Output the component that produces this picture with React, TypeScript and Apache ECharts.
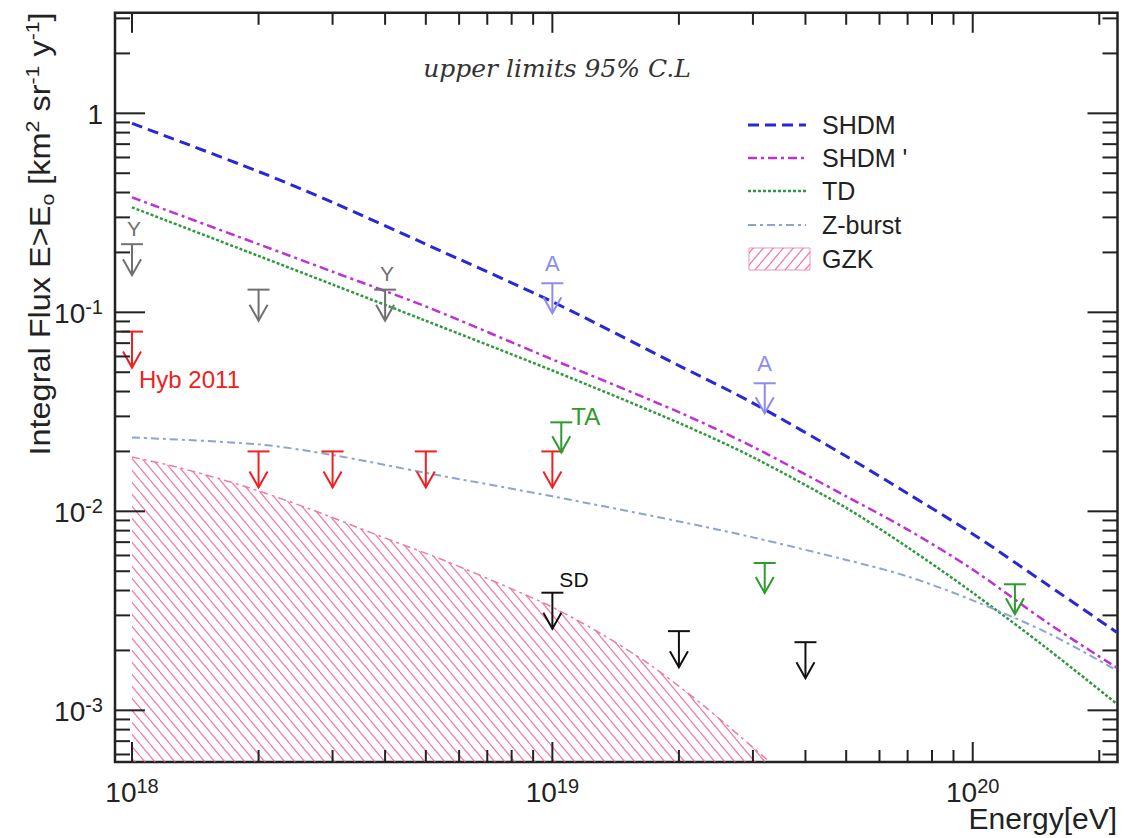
import React, { useEffect, useRef } from 'react';
import * as echarts from 'echarts';

// Axis ranges (log scales)
const X_MIN = 9.11e17;
const X_MAX = 2.21e20;
const Y_MIN = 5.5e-4;
const Y_MAX = 3.2;

// Model predictions of the integral photon flux
const ENERGY = [1e18, 2e18, 3e18, 5e18, 1e19, 2e19, 3e19, 5e19, 7e19, 1e20, 1.5e20, 2.2e20];
const SHDM = [0.89, 0.51, 0.357, 0.22, 0.113, 0.054, 0.035, 0.0189, 0.0123, 0.0077, 0.0043, 0.00247];
const SHDM_PRIME = [0.378, 0.22, 0.16, 0.107, 0.058, 0.0315, 0.0211, 0.0119, 0.0081, 0.0051, 0.00277, 0.00164];
const TD = [0.337, 0.192, 0.138, 0.0907, 0.051, 0.0278, 0.0187, 0.0104, 0.0066, 0.0039, 0.00205, 0.00108];
const Z_BURST = [0.0235, 0.0217, 0.0192, 0.0156, 0.0119, 0.0089, 0.0074, 0.0057, 0.00471, 0.00357, 0.00246, 0.00159];

// GZK band upper boundary
const GZK_ENERGY = [1e18, 1.28e18, 1.84e18, 2.65e18, 3.83e18, 5.5e18, 7.93e18, 1e19, 1.3e19, 1.71e19, 2.31e19, 3.29e19];
const GZK_FLUX = [0.01875, 0.01667, 0.01341, 0.01027, 0.0076, 0.00569, 0.00411, 0.0033, 0.00244, 0.00169, 0.00104, 0.00055];

// Upper limits (energy, flux) and their labels
const HYB_LIMITS = [[1e18, 0.08], [2e18, 0.02], [3e18, 0.02], [5e18, 0.02], [1e19, 0.02]];
const HYB_LABELS = ['Hyb 2011', '', '', '', ''];
const Y_LIMITS = [[1e18, 0.22], [2e18, 0.13], [4e18, 0.13]];
const Y_LABELS = ['Y', '', 'Y'];
const A_LIMITS = [[1e19, 0.14], [3.2e19, 0.044]];
const A_LABELS = ['A', 'A'];
const TA_LIMITS = [[1.05e19, 0.028], [3.2e19, 0.0055], [1.26e20, 0.0043]];
const TA_LABELS = ['TA', '', ''];
const SD_LIMITS = [[1e19, 0.0039], [2e19, 0.0025], [4e19, 0.0022]];
const SD_LABELS = ['SD', '', ''];

const SANS = 'Liberation Sans, Arial, sans-serif';

function hatchTile(forward: boolean) {
  const c = document.createElement('canvas');
  c.width = 10;
  c.height = 12;
  const ctx = c.getContext('2d')!;
  ctx.strokeStyle = 'rgba(236,96,146,0.85)';
  ctx.lineWidth = 1.2;
  for (let k = -1; k <= 1; k++) {
    ctx.beginPath();
    if (forward) {
      ctx.moveTo(k * 10, 12);
      ctx.lineTo(k * 10 + 10, 0);
    } else {
      ctx.moveTo(k * 10, 0);
      ctx.lineTo(k * 10 + 10, 12);
    }
    ctx.stroke();
  }
  return { image: c, repeat: 'repeat', imageWidth: 10, imageHeight: 12 };
}

function lineSeries(name: string, values: number[], color: string, dash: number[], width: number) {
  return {
    type: 'line',
    name,
    data: ENERGY.map((e, i) => [e, values[i]]),
    showSymbol: false,
    symbol: 'none',
    smooth: 0.3,
    silent: true,
    z: 4,
    lineStyle: { color, width, type: dash },
  };
}

function limitSeries(
  name: string,
  points: number[][],
  labels: string[],
  color: string,
  len: number,
  lab: { dx: number; dy: number; align: string; size: number }
) {
  return {
    type: 'custom',
    name,
    data: points,
    silent: true,
    clip: false,
    z: 6,
    renderItem: (params: any, api: any) => {
      const p = api.coord([api.value(0), api.value(1)]);
      const x = p[0];
      const y = p[1];
      const hw = 11;
      const aw = 9;
      const ah = 16;
      const st = { stroke: color, lineWidth: 2, fill: 'none' };
      const children: any[] = [
        { type: 'line', shape: { x1: x - hw, y1: y, x2: x + hw, y2: y }, style: st },
        { type: 'line', shape: { x1: x, y1: y, x2: x, y2: y + len }, style: st },
        {
          type: 'polyline',
          shape: { points: [[x - aw, y + len - ah], [x, y + len], [x + aw, y + len - ah]] },
          style: st,
        },
      ];
      const t = labels[params.dataIndex];
      if (t) {
        children.push({
          type: 'text',
          x: x + lab.dx,
          y: y + lab.dy,
          style: {
            text: t,
            fill: color,
            fontSize: lab.size,
            fontFamily: SANS,
            align: lab.align,
            verticalAlign: 'middle',
          },
        });
      }
      return { type: 'group', children };
    },
  };
}

function tickSeries() {
  const xMajor: number[] = [];
  const xMinor: number[] = [];
  const yMajor: number[] = [];
  const yMinor: number[] = [];
  for (let k = 17; k <= 20; k++) {
    for (let m = 1; m <= 9; m++) {
      const v = m * Math.pow(10, k);
      if (v < X_MIN || v > X_MAX) continue;
      (m === 1 ? xMajor : xMinor).push(v);
    }
  }
  for (let k = -4; k <= 0; k++) {
    for (let m = 1; m <= 9; m++) {
      const v = m * Math.pow(10, k);
      if (v < Y_MIN || v > Y_MAX) continue;
      (m === 1 ? yMajor : yMinor).push(v);
    }
  }
  return {
    type: 'custom',
    name: 'ticks',
    data: [[X_MIN, Y_MIN]],
    silent: true,
    clip: false,
    z: 7,
    renderItem: (_params: any, api: any) => {
      const children: any[] = [];
      const st = { stroke: '#222', lineWidth: 2 };
      const bottom = api.coord([X_MIN, Y_MIN])[1];
      const top = api.coord([X_MIN, Y_MAX])[1];
      const left = api.coord([X_MIN, Y_MIN])[0];
      const right = api.coord([X_MAX, Y_MIN])[0];
      const addX = (v: number, len: number) => {
        const x = api.coord([v, Y_MIN])[0];
        children.push({ type: 'line', shape: { x1: x, y1: bottom, x2: x, y2: bottom - len }, style: st });
        children.push({ type: 'line', shape: { x1: x, y1: top, x2: x, y2: top + len }, style: st });
      };
      const addY = (v: number, len: number) => {
        const y = api.coord([X_MIN, v])[1];
        children.push({ type: 'line', shape: { x1: left, y1: y, x2: left + len, y2: y }, style: st });
        children.push({ type: 'line', shape: { x1: right, y1: y, x2: right - len, y2: y }, style: st });
      };
      xMajor.forEach((v) => addX(v, 20));
      xMinor.forEach((v) => addX(v, 12));
      yMajor.forEach((v) => addY(v, 30));
      yMinor.forEach((v) => addY(v, 15));
      return { type: 'group', children };
    },
  };
}

const isPow10 = (v: number) => Math.abs(Math.log10(v) - Math.round(Math.log10(v))) < 1e-6;

const labelRich = {
  b: { fontSize: 28, fontFamily: SANS, color: '#222', lineHeight: 30, verticalAlign: 'bottom' },
  s: { fontSize: 20, fontFamily: SANS, color: '#222', lineHeight: 18, verticalAlign: 'top' },
};

const LEGEND_ROWS = [
  { name: 'SHDM', color: '#2828d8', dash: [11, 6], width: 3 },
  { name: "SHDM '", color: '#bf30d8', dash: [9, 4, 3, 4], width: 2.5 },
  { name: 'TD', color: '#2f9a3c', dash: [3, 2], width: 2.5 },
  { name: 'Z-burst', color: '#8ea4d0', dash: [8, 4, 3, 4], width: 2 },
];

export default function App() {
  const ref = useRef<HTMLDivElement>(null);

  useEffect(() => {
    const chart = echarts.init(ref.current!, null, { renderer: 'svg' });
    const backHatch = hatchTile(false);
    const fwdHatch = hatchTile(true);

    const legendGraphics: any[] = [];
    const rowY = [125, 158, 191, 225, 259];
    LEGEND_ROWS.forEach((r, i) => {
      legendGraphics.push({
        type: 'line',
        shape: { x1: 748, y1: rowY[i], x2: 806, y2: rowY[i] },
        style: { stroke: r.color, lineWidth: r.width, lineDash: r.dash },
      });
      legendGraphics.push({
        type: 'text',
        x: 822,
        y: rowY[i],
        style: { text: r.name, fill: '#222', fontSize: 25, fontFamily: SANS, verticalAlign: 'middle' },
      });
    });
    legendGraphics.push({
      type: 'rect',
      shape: { x: 749, y: rowY[4] - 11, width: 61, height: 22 },
      style: { fill: fwdHatch, stroke: 'rgba(236,120,160,0.8)', lineWidth: 1 },
    });
    legendGraphics.push({
      type: 'text',
      x: 822,
      y: rowY[4],
      style: { text: 'GZK', fill: '#222', fontSize: 25, fontFamily: SANS, verticalAlign: 'middle' },
    });

    const option: any = {
      animation: false,
      backgroundColor: '#fff',
      grid: {
        left: 115,
        right: 14.5,
        top: 12.8,
        bottom: 76,
        outerBoundsMode: 'none',
        containLabel: false,
        show: true,
        borderColor: '#222',
        borderWidth: 2.5,
        backgroundColor: 'transparent',
      },
      xAxis: {
        type: 'log',
        logBase: 10,
        min: X_MIN,
        max: X_MAX,
        axisLine: { show: false },
        axisTick: { show: false },
        splitLine: { show: false },
        axisLabel: {
          margin: 14,
          hideOverlap: false,
          formatter: (v: number) => (isPow10(v) ? `{b|10}{s|${Math.round(Math.log10(v))}}` : ''),
          rich: labelRich,
        },
      },
      yAxis: {
        type: 'log',
        logBase: 10,
        min: Y_MIN,
        max: Y_MAX,
        axisLine: { show: false },
        axisTick: { show: false },
        splitLine: { show: false },
        axisLabel: {
          margin: 12,
          hideOverlap: false,
          formatter: (v: number) => {
            if (!isPow10(v)) return '';
            const e = Math.round(Math.log10(v));
            return e === 0 ? '{b|1}' : `{b|10}{s|${e}}`;
          },
          rich: labelRich,
        },
      },
      graphic: [
        {
          type: 'text',
          x: 557,
          y: 68,
          style: {
            text: 'upper limits 95% C.L',
            fill: '#333',
            fontSize: 25,
            fontStyle: 'italic',
            fontFamily: 'DejaVu Serif, serif',
            align: 'center',
            verticalAlign: 'middle',
          },
        },
        {
          type: 'text',
          x: 40,
          y: 234,
          rotation: Math.PI / 2,
          scaleX: 1.12,
          style: {
            text: 'Integral Flux E>E{sub|o} [km{sup|2} sr{sup|-1} y{sup|-1}]',
            fill: '#222',
            fontSize: 29,
            fontFamily: SANS,
            align: 'center',
            verticalAlign: 'middle',
            lineHeight: 34,
            rich: {
              sub: { fontSize: 19, fontFamily: SANS, lineHeight: 18, verticalAlign: 'bottom' },
              sup: { fontSize: 19, fontFamily: SANS, lineHeight: 18, verticalAlign: 'top' },
            },
          },
        },
        {
          type: 'text',
          x: 1117,
          y: 818,
          style: {
            text: 'Energy[eV]',
            fill: '#222',
            fontSize: 30,
            fontFamily: SANS,
            align: 'right',
            verticalAlign: 'middle',
          },
        },
        ...legendGraphics,
      ],
      series: [
        {
          type: 'line',
          name: 'GZK',
          data: GZK_ENERGY.map((e, i) => [e, GZK_FLUX[i]]),
          showSymbol: false,
          symbol: 'none',
          smooth: 0.3,
          silent: true,
          z: 2,
          lineStyle: { color: '#ec7aa8', width: 1.5, type: [8, 4, 3, 4] },
          areaStyle: { origin: 'start', color: backHatch, opacity: 1 },
        },
        lineSeries('SHDM', SHDM, '#2828d8', [11, 6], 3),
        lineSeries("SHDM '", SHDM_PRIME, '#bf30d8', [9, 4, 3, 4], 2.5),
        lineSeries('TD', TD, '#2f9a3c', [3, 2], 2.5),
        lineSeries('Z-burst', Z_BURST, '#8ea4d0', [8, 4, 3, 4], 2),
        limitSeries('Hyb 2011', HYB_LIMITS, HYB_LABELS, '#f02020', 36, { dx: 7, dy: 48, align: 'left', size: 24 }),
        limitSeries('Y', Y_LIMITS, Y_LABELS, '#707070', 31, { dx: 2, dy: -16, align: 'center', size: 21 }),
        limitSeries('A', A_LIMITS, A_LABELS, '#8b8bf0', 30, { dx: 0, dy: -20, align: 'center', size: 22 }),
        limitSeries('TA', TA_LIMITS, TA_LABELS, '#2f9a2f', 30, { dx: 10, dy: -6, align: 'left', size: 24 }),
        limitSeries('SD', SD_LIMITS, SD_LABELS, '#111', 36, { dx: 7, dy: -13, align: 'left', size: 21 }),
        tickSeries(),
      ],
    };

    chart.setOption(option);
    return () => chart.dispose();
  }, []);

  return (
    <div
      ref={ref}
      style={{ position: 'fixed', left: 0, top: 0, width: 1132, height: 838, background: '#fff' }}
    />
  );
}
